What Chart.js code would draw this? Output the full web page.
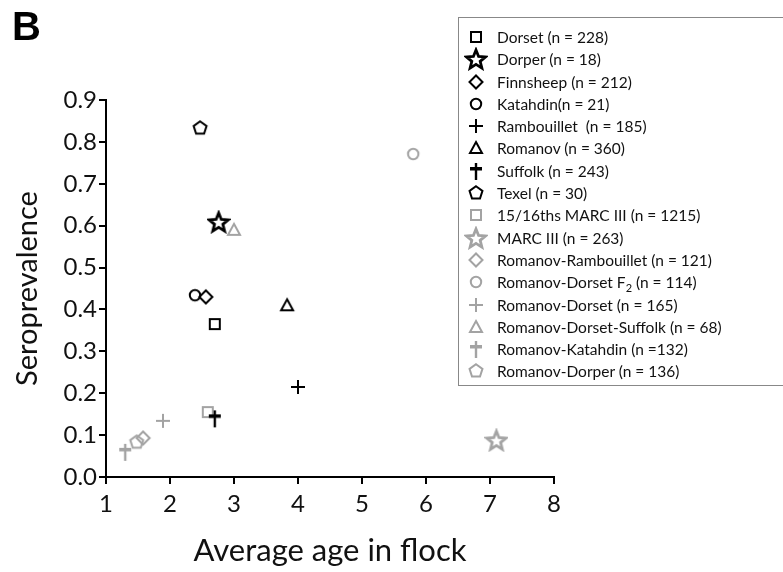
<!DOCTYPE html>
<html>
<head>
<meta charset="utf-8">
<script src="https://cdn.jsdelivr.net/npm/chart.js@4.4.1/dist/chart.umd.min.js"></script>
<style>
  html, body { margin: 0; padding: 0; background: #fff; overflow: hidden; }
  #wrap { position: relative; width: 783px; height: 572px; overflow: hidden; }
  #panel { position: absolute; left: 12px; top: 4px; font: bold 40px "Liberation Sans", Arial, sans-serif; color: #000; }
  #legend { position: absolute; left: 458px; top: 17px; width: 360px; height: 369px;
            border: 1px solid #888; box-sizing: border-box; padding-top: 8px;
            font: 15.5px Lato, sans-serif; color: #111; }
  #legend .row { position: relative; height: 22.3px; line-height: 22.3px; white-space: pre; }
  #legend .row img { position: absolute; left: 5px; top: -1px; }
  #legend .row span { position: absolute; left: 38px; top: 0; }
  #legend sub { font-size: 11px; line-height: 0; }
</style>
</head>
<body>
<div id="wrap">
  <canvas id="myChart" width="783" height="572"></canvas>
  <div id="panel">B</div>
  <div id="legend"></div>
</div>
<script>
// data
var breeds = ["Dorset (n = 228)", "Dorper (n = 18)", "Finnsheep (n = 212)", "Katahdin(n = 21)",
    "Rambouillet  (n = 185)", "Romanov (n = 360)", "Suffolk (n = 243)", "Texel (n = 30)",
    "15/16ths MARC III (n = 1215)", "MARC III (n = 263)", "Romanov-Rambouillet (n = 121)",
    "Romanov-Dorset F<sub>2</sub> (n = 114)", "Romanov-Dorset (n = 165)",
    "Romanov-Dorset-Suffolk (n = 68)", "Romanov-Katahdin (n =132)", "Romanov-Dorper (n = 136)"];
var avgAge = [2.70, 2.76, 2.56, 2.39, 4.00, 3.83, 2.70, 2.47, 2.59, 7.10, 1.58, 5.80, 1.89, 3.00, 1.30, 1.48];
var seroprev = [0.365, 0.609, 0.430, 0.434, 0.215, 0.410, 0.140, 0.833, 0.155, 0.088, 0.093, 0.771, 0.134, 0.590, 0.060, 0.083];
var shapes = ["square", "star", "diamond", "circle", "plus", "triangle", "dagger", "pentagon",
    "square", "star", "diamond", "circle", "plus", "triangle", "dagger", "pentagon"];
var yTicks = [0, 0.1, 0.2, 0.3, 0.4, 0.5, 0.6, 0.7, 0.8, 0.9];
var xTicks = [1, 2, 3, 4, 5, 6, 7, 8];

var BLACK = "#000";
var GREY = "#a3a3a3";

function polygon(ctx, n, r, rot) {
    ctx.beginPath();
    for (var i = 0; i < n; i++) {
        var a = rot + i * 2 * Math.PI / n;
        var px = r * Math.cos(a), py = r * Math.sin(a);
        i ? ctx.lineTo(px, py) : ctx.moveTo(px, py);
    }
    ctx.closePath();
}

function makeMarker(shape, color) {
    var c = document.createElement("canvas");
    c.width = 24; c.height = 24;
    var ctx = c.getContext("2d");
    ctx.translate(12, 12);
    ctx.strokeStyle = color;
    ctx.fillStyle = color;
    ctx.lineWidth = 2;
    if (shape == "square") {
        ctx.strokeRect(-5, -5, 10, 10);
    } else if (shape == "star") {
        ctx.beginPath();
        for (var i = 0; i < 10; i++) {
            var r = i % 2 ? 4.4 : 10;
            var a = -Math.PI / 2 + i * Math.PI / 5;
            var px = r * Math.cos(a), py = r * Math.sin(a) + 1;
            i ? ctx.lineTo(px, py) : ctx.moveTo(px, py);
        }
        ctx.closePath();
        ctx.lineWidth = 2.8;
        ctx.stroke();
    } else if (shape == "diamond") {
        polygon(ctx, 4, 6.5, 0);
        ctx.stroke();
    } else if (shape == "circle") {
        ctx.beginPath();
        ctx.arc(0, 0, 5.2, 0, 2 * Math.PI);
        ctx.stroke();
    } else if (shape == "plus") {
        ctx.beginPath();
        ctx.moveTo(-7, 0); ctx.lineTo(7, 0);
        ctx.moveTo(0, -7); ctx.lineTo(0, 7);
        ctx.stroke();
    } else if (shape == "triangle") {
        ctx.beginPath();
        ctx.moveTo(0, -6); ctx.lineTo(6, 5); ctx.lineTo(-6, 5);
        ctx.closePath();
        ctx.stroke();
    } else if (shape == "dagger") {
        ctx.fillRect(-1.2, -8, 2.4, 17);
        ctx.fillRect(-6, -4, 12, 3.5);
    } else if (shape == "pentagon") {
        polygon(ctx, 5, 6.8, -Math.PI / 2);
        ctx.stroke();
    }
    return c;
}

var markers = shapes.map(function (s, i) {
    return makeMarker(s, i < 8 ? BLACK : GREY);
});

var datasets = breeds.map(function (name, i) {
    return {
        label: name,
        data: [{ x: avgAge[i], y: seroprev[i] }],
        pointStyle: markers[i],
        pointRadius: 10,
        borderColor: i < 8 ? BLACK : GREY
    };
});

// legend box
var legend = document.getElementById("legend");
breeds.forEach(function (name, i) {
    var row = document.createElement("div");
    row.className = "row";
    var img = document.createElement("img");
    img.src = markers[i].toDataURL();
    row.appendChild(img);
    var sp = document.createElement("span");
    sp.innerHTML = name;
    row.appendChild(sp);
    legend.appendChild(row);
});

var ctx = document.getElementById("myChart").getContext("2d");
var myChart = new Chart(ctx, {
    type: "scatter",
    data: { datasets: datasets },
    options: {
        responsive: false,
        animation: false,
        layout: { padding: { top: 100, right: 229, left: 0, bottom: 0 } },
        plugins: { legend: { display: false }, tooltip: { enabled: false } },
        scales: {
            x: {
                type: "linear",
                min: xTicks[0],
                max: xTicks[xTicks.length - 1],
                afterBuildTicks: function (scale) {
                    scale.ticks = xTicks.map(function (v) { return { value: v }; });
                },
                afterFit: function (scale) { scale.height = 95; },
                grid: { drawOnChartArea: false, drawTicks: true, tickLength: 7, color: "#000", lineWidth: 2 },
                border: { display: true, color: "#000", width: 2 },
                ticks: { color: "#111", font: { family: "Lato", size: 24 }, padding: 6 },
                title: { display: true, text: "Average age in flock", color: "#111",
                         font: { family: "Lato", size: 31 }, padding: { top: 0, bottom: 2 } }
            },
            y: {
                min: yTicks[0],
                max: yTicks[yTicks.length - 1],
                afterBuildTicks: function (scale) {
                    scale.ticks = yTicks.map(function (v) { return { value: v }; });
                },
                afterFit: function (scale) { scale.width = 106; },
                grid: { drawOnChartArea: false, drawTicks: true, tickLength: 7, color: "#000", lineWidth: 2 },
                border: { display: true, color: "#000", width: 2 },
                ticks: { color: "#111", font: { family: "Lato", size: 24 }, padding: 2,
                         callback: function (v) { return v.toFixed(1); } },
                title: { display: true, text: "Seroprevalence", color: "#111",
                         font: { family: "Lato", size: 29 }, padding: { top: 10, bottom: 0 } }
            }
        }
    }
});
</script>
</body>
</html>
